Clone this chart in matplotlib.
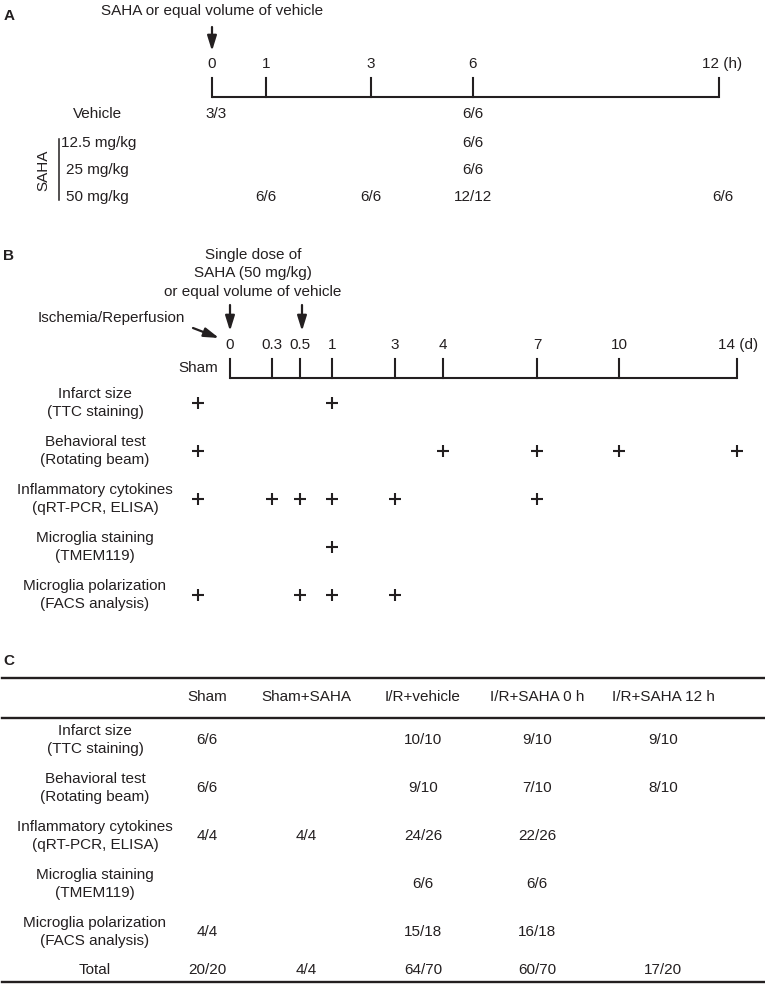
import matplotlib
matplotlib.use("Agg")
import matplotlib.pyplot as plt

plt.rcParams['font.family'] = ['Liberation Sans', 'DejaVu Sans']

# ---------------- data ----------------
a_times = ['0', '1', '3', '6', '12']
a_groups = ['Vehicle', '12.5 mg/kg', '25 mg/kg', '50 mg/kg']
a_counts = {
    'Vehicle': {'0': '3/3', '6': '6/6'},
    '12.5 mg/kg': {'6': '6/6'},
    '25 mg/kg': {'6': '6/6'},
    '50 mg/kg': {'1': '6/6', '3': '6/6', '6': '12/12', '12': '6/6'},
}

b_times = ['0', '0.3', '0.5', '1', '3', '4', '7', '10', '14']
b_assays = ['Infarct size\n(TTC staining)', 'Behavioral test\n(Rotating beam)',
            'Inflammatory cytokines\n(qRT-PCR, ELISA)', 'Microglia staining\n(TMEM119)',
            'Microglia polarization\n(FACS analysis)']
b_marks = [
    ['Sham', '1'],
    ['Sham', '4', '7', '10', '14'],
    ['Sham', '0.3', '0.5', '1', '3', '7'],
    ['1'],
    ['Sham', '0.5', '1', '3'],
]

c_cols = ['Sham', 'Sham+SAHA', 'I/R+vehicle', 'I/R+SAHA 0 h', 'I/R+SAHA 12 h']
c_rows = b_assays + ['Total']
c_vals = [
    ['6/6', '', '10/10', '9/10', '9/10'],
    ['6/6', '', '9/10', '7/10', '8/10'],
    ['4/4', '4/4', '24/26', '22/26', ''],
    ['', '', '6/6', '6/6', ''],
    ['4/4', '', '15/18', '16/18', ''],
    ['20/20', '4/4', '64/70', '60/70', '17/20'],
]

# ---------------- layout ----------------
W, H = 765, 986
K = '#231F20'
FS = 11
LW = 1.5
fig = plt.figure(figsize=(W / 100, H / 100), dpi=100)
ax = fig.add_axes([0, 0, 1, 1])
ax.set_xlim(0, W)
ax.set_ylim(H, 0)
ax.axis('off')

def txt(x, y, s, ha='center', **kw):
    kw.setdefault('fontsize', FS)
    kw.setdefault('color', K)
    ax.text(x, y, s, ha=ha, va='center', **kw)

def arrow(x0, y0, x1, y1):
    ax.annotate('', xy=(x1, y1), xytext=(x0, y0),
                arrowprops=dict(arrowstyle='-|>,head_length=0.9,head_width=0.28',
                                lw=1.6, color=K, shrinkA=0, shrinkB=0))

# ---- Panel A ----
a_x = dict(zip(a_times, [212, 266, 371, 473, 719]))
txt(9, 16, 'A', ha='center', fontweight='bold')
txt(212, 11, 'SAHA or equal volume of vehicle')
arrow(212, 27, 212, 51)
axis_y, tick_top = 97, 78
ax.plot([a_x['0'], a_x['12']], [axis_y, axis_y], color=K, lw=LW, solid_capstyle='butt')
for t in a_times:
    ax.plot([a_x[t], a_x[t]], [tick_top, axis_y], color=K, lw=LW)
    if t == '12':
        txt(702, 64, t + ' (h)', ha='left')
    else:
        txt(a_x[t], 64, t)
a_y = dict(zip(a_groups, [114, 143, 170, 197]))
txt(98, a_y['Vehicle'], 'Vehicle')
txt(61, a_y['12.5 mg/kg'], '12.5 mg/kg', ha='left')
txt(66, a_y['25 mg/kg'], '25 mg/kg', ha='left')
txt(66, a_y['50 mg/kg'], '50 mg/kg', ha='left')
txt(43, 170, 'SAHA', rotation=90)
ax.plot([59, 59], [139, 200], color=K, lw=1.1)
for g in a_groups:
    for t, v in a_counts[g].items():
        dx = {'0': 4, '12': 4}.get(t, 0)
        txt(a_x[t] + dx, a_y[g], v)

# ---- Panel B ----
b_x = dict(zip(b_times, [230, 272, 300, 332, 395, 443, 537, 619, 737]))
b_x['Sham'] = 198
txt(9, 256, 'B', fontweight='bold')
txt(253, 255, 'Single dose of')
txt(253, 273, 'SAHA (50 mg/kg)')
txt(253, 292, 'or equal volume of vehicle')
txt(111, 318, 'Ischemia/Reperfusion')
arrow(230, 305, 230, 331)
arrow(302, 305, 302, 331)
arrow(193, 328, 219, 338)
b_axis, b_top = 378, 359
ax.plot([b_x['0'], b_x['14']], [b_axis, b_axis], color=K, lw=LW, solid_capstyle='butt')
for t in b_times:
    ax.plot([b_x[t], b_x[t]], [b_top, b_axis], color=K, lw=LW)
    if t == '14':
        txt(718, 345, t + ' (d)', ha='left')
    else:
        txt(b_x[t], 345, t)
txt(b_x['Sham'], 368, 'Sham')
b_y = [403, 451, 499, 547, 595]
for lab, y, marks in zip(b_assays, b_y, b_marks):
    txt(95, y, lab, linespacing=1.3)
    for m in marks:
        ax.plot(b_x[m], y, marker='+', ms=8.5, mew=1.5, color=K)

# ---- Panel C ----
txt(9, 661, 'C', fontweight='bold')
c_x = [207, 306, 423, 537, 663]
ax.plot([2, 765], [678, 678], color=K, lw=1.7)
ax.plot([2, 765], [718, 718], color=K, lw=1.7)
ax.plot([2, 765], [982, 982], color=K, lw=1.7)
for x, c in zip(c_x, c_cols):
    txt(x, 697, c)
c_y = [740, 788, 836, 884, 932, 970]
for lab, y, vals in zip(c_rows, c_y, c_vals):
    txt(95, y, lab, linespacing=1.3)
    for x, v in zip(c_x, vals):
        if v:
            txt(x, y, v)

fig.savefig('out.png', dpi=100, facecolor='white')
